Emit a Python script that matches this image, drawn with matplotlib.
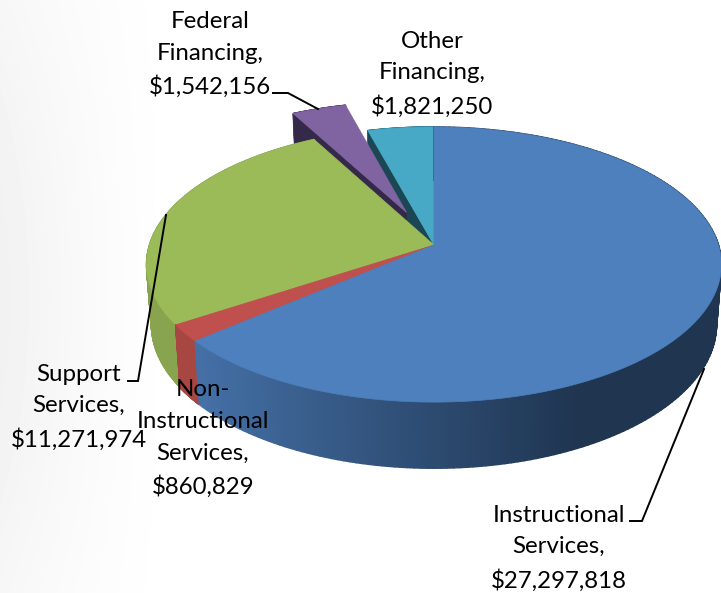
import numpy as np
import matplotlib
matplotlib.use("Agg")
import matplotlib.pyplot as plt
from matplotlib.colors import to_rgb
from matplotlib.collections import PolyCollection
from matplotlib.patches import Polygon

plt.rcParams['font.family'] = ['Lato', 'DejaVu Sans']

# datos de la grafica
names = ["Instructional\nServices,", "Non-\nInstructional\nServices,", "Support\nServices,",
         "Federal\nFinancing,", "Other\nFinancing,"]
values = [27297818, 860829, 11271974, 1542156, 1821250]
explode = [0, 0, 0, 0.27, 0]

top_colors = ["#4D80BC", "#C0504D", "#9BBB59", "#8064A2", "#47A9C5"]
wall_front = ["#4571A8", "#A84642", "#88A44E", "#5B4676", "#2F7A90"]
wall_back = ["#1F3550", "#A84642", "#88A44E", "#5B4676", "#2F7A90"]
face_colors = ["#1F3550", "#8E3A37", "#5F7535", "#35294A", "#1B4653"]

label_x = [559, 203, 79, 210, 432]
label_y = [548, 438.5, 407, 54.5, 74]

# lineas guia, en pixeles
leader_lines = [
    ([630, 642, 704], [521, 521, 369]),
    ([128, 138, 166], [381, 381, 215]),
    ([273, 288, 318], [93, 93, 109]),
]

CX, CY = 434, 245
RX, RY = 284.5, 134.8
K = 0.142       # perspectiva
DEPTH = 59
LOW = 0.983     # escala de la cara inferior


def project(x, y, bottom=False):
    w = 1 + K * y
    sx = RX * x / w
    sy = RY * y / w
    if bottom:
        return CX + sx * LOW, CY - sy * LOW + DEPTH / w
    return CX + sx, CY - sy


fig = plt.figure(figsize=(7.21, 5.93), dpi=100)
ax = fig.add_axes([0, 0, 1, 1])
ax.set_xlim(0, 721)
ax.set_ylim(593, 0)
ax.axis("off")

# fondo: gris muy claro que se pierde hacia la derecha
gx, gy = np.meshgrid(np.arange(721), np.arange(593))
fade = np.clip(1 - gx / 190, 0, 1) ** 1.5
bg = 1 - 0.055 * fade * (0.6 + 0.4 * np.sin(np.pi * gy / 593))
ax.imshow(bg, cmap="gray", vmin=0, vmax=1, extent=(0, 721, 593, 0), aspect="auto", zorder=0)

fractions = np.array(values) / sum(values)
ends = np.cumsum(fractions) * 2 * np.pi
starts = np.concatenate([[0], ends[:-1]])

z = 1
for i in [4, 3, 2, 1, 0]:  # de atras hacia adelante
    a0, a1 = starts[i], ends[i]
    mid = (a0 + a1) / 2
    ox, oy = explode[i] * np.sin(mid), explode[i] * np.cos(mid)
    t = np.linspace(a0, a1, 200)
    px, py = ox + np.sin(t), oy + np.cos(t)

    # pared exterior en tiras
    tx, ty = project(px, py)
    bx, by = project(px, py, bottom=True)
    quads = []
    cols = []
    c_front, c_back = np.array(to_rgb(wall_front[i])), np.array(to_rgb(wall_back[i]))
    for j in range(len(t) - 1):
        quads.append([(tx[j], ty[j]), (tx[j + 1], ty[j + 1]), (bx[j + 1], by[j + 1]), (bx[j], by[j])])
        f = np.clip((np.sin(t[j]) + 0.76) / 1.21, 0, 1)
        cols.append(c_front + (c_back - c_front) * f)
    ax.add_collection(PolyCollection(quads, facecolors=cols, edgecolors=cols, linewidths=1.1, zorder=z))
    z += 1

    # cara del corte, lado izquierdo de la rebanada
    ax0, ay0 = project(ox, oy)
    bx0, by0 = project(ox, oy, bottom=True)
    ax.add_patch(Polygon([(ax0, ay0), (tx[0], ty[0]), (bx[0], by[0]), (bx0, by0)],
                         closed=True, fc=face_colors[i], ec=face_colors[i], lw=0.5, zorder=z))
    z += 1

    # cara superior
    ax.add_patch(Polygon([(ax0, ay0)] + list(zip(tx, ty)), closed=True,
                         fc=top_colors[i], ec=top_colors[i], lw=0.5, zorder=z))
    z += 1

for lx, ly in leader_lines:
    ax.plot(lx, ly, color="black", lw=1.4, solid_joinstyle="miter", zorder=z)

for name, value, x, y in zip(names, values, label_x, label_y):
    ax.text(x, y, f"{name}\n${value:,}", ha="center", va="center", ma="center",
            fontsize=17.3, linespacing=1.62, color="black", zorder=z + 1)

fig.savefig("out.png", dpi=100)
